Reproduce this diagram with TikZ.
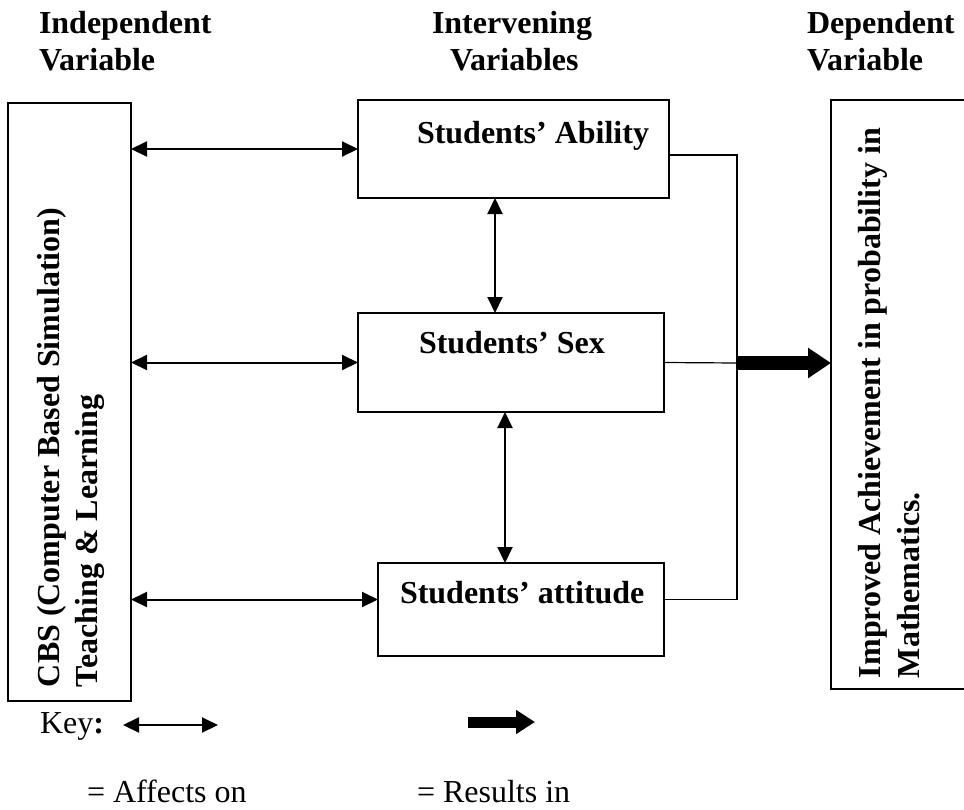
\documentclass[tikz,border=0pt]{standalone}
\usepackage{fontspec}
\setmainfont{Liberation Serif}
\usepackage{tikz}
\usetikzlibrary{arrows.meta, calc}
\tikzset{head text/.style={font=\fontsize{32}{38}\selectfont\bfseries,inner sep=0pt,outer sep=0pt}}
\tikzset{key text/.style={font=\fontsize{32}{38}\selectfont,inner sep=0pt,outer sep=0pt}}
\tikzset{var box/.style={draw,line width=1.8pt,inner sep=0pt,outer sep=0pt}}
\tikzset{affects/.style={line width=2pt,{Triangle[length=16pt,width=15pt]}-{Triangle[length=16pt,width=15pt]}}}
\tikzset{link/.style={line width=1.2pt}}
\tikzset{results/.style={line width=14pt,-{Triangle[length=23pt,width=29pt]}}}
\tikzset{key results/.style={line width=11pt,-{Triangle[length=19pt,width=23pt]}}}

\begin{document}
\begin{tikzpicture}[x=1pt, y=-1pt]
                    \useasboundingbox (0, 0) rectangle (964, 809);
                    %\draw[help lines] (0, 0) grid (964, 809);

                    \node[head text, anchor=base west] at (39, 33) (indep1){Independent};
                    \node[head text, anchor=base west] at (39, 70) (indep2){Variable};
                    \node[head text, anchor=base west] at (432, 33) (interv1){Intervening};
                    \node[head text, anchor=base west] at (450, 70) (interv2){Variables};
                    \node[head text, anchor=base west] at (807, 33) (dep1){Dependent};
                    \node[head text, anchor=base west] at (807, 70) (dep2){Variable};

                    \node[var box, minimum width=123pt, minimum height=598pt] at (69.5, 402) (cbs){};
                    \node[var box, minimum width=311pt, minimum height=98pt] at (513.5, 149) (ability){};
                    \node[var box, minimum width=306pt, minimum height=99pt] at (511, 362.5) (sex){};
                    \node[var box, minimum width=286pt, minimum height=93pt] at (521, 609.5) (attitude){};
                    \node[var box, minimum width=140pt, minimum height=589pt] at (901, 394.5) (outcome){};

                    \node[head text, rotate=90, anchor=base west] at (59, 687) (cbs1){CBS (Computer Based Simulation)};
                    \node[head text, rotate=90, anchor=base west] at (97, 687) (cbs2){Teaching \& Learning};
                    \node[head text, anchor=base west] at (417, 143) (abilitytxt){Students’ Ability};
                    \node[head text, anchor=base west] at (419, 353) (sextxt){Students’ Sex};
                    \node[head text, anchor=base west] at (400, 603) (attitudetxt){Students’ attitude};
                    \node[head text, rotate=90, anchor=base west] at (880, 678) (outcome1){Improved Achievement in probability in};
                    \node[head text, rotate=90, anchor=base west] at (919, 678) (outcome2){Mathematics.};

                    \coordinate (attin) at ([yshift=10pt]attitude.west);
                    \draw[affects] (cbs.east |- ability.west) -- (ability.west);
                    \draw[affects] (cbs.east |- sex.west) -- (sex.west);
                    \draw[affects] (cbs.east |- attin) -- (attin);

                    \coordinate (abdown) at ([xshift=-18.5pt]ability.south);
                    \coordinate (sexdown) at ([xshift=-6pt]sex.south);
                    \draw[affects] (abdown) -- (abdown |- sex.north);
                    \draw[affects] (sexdown) -- (sexdown |- attitude.north);

                    \coordinate (join) at (737, 363);
                    \draw[link] ([yshift=-6pt]ability.east) -| (join) |- ([yshift=10pt]attitude.east);
                    \draw[link] (sex.east) -- (join);
                    \draw[results] (join) -- (join -| outcome.west);

                    \node[key text, anchor=base west] at (40, 733) (key){Key\textbf{:}};
                    \coordinate (keyA) at (123, 725);
                    \coordinate (keyB) at (218, 725);
                    \draw[affects] (keyA) -- (keyB);
                    \coordinate (keyC) at (468, 722);
                    \coordinate (keyD) at (535, 722);
                    \draw[key results] (keyC) -- (keyD);
                    \node[key text, anchor=base west] at (87, 802) (affectstxt){= Affects on};
                    \node[key text, anchor=base west] at (417, 802) (resultstxt){= Results in};

                \end{tikzpicture}
\end{document}
